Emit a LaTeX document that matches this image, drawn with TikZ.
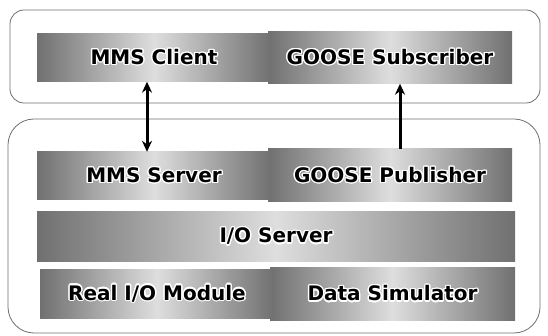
\documentclass[tikz,border=0pt]{standalone}
\usepackage{fontspec}
\setmainfont{DejaVu Sans}
\usepackage[copies]{contour}
\contourlength{1.3pt}
\contournumber{16}
\usetikzlibrary{arrows.meta}
\definecolor{edgegray}{RGB}{112,112,112}
\definecolor{midgray}{RGB}{222,222,222}
\definecolor{framegray}{RGB}{110,110,110}
\tikzset{
  blk/.style={inner sep=0pt, left color=edgegray, right color=edgegray, middle color=midgray,
    font=\bfseries\fontsize{20}{23}\selectfont, text=black},
  frame/.style={draw=framegray, line width=0.8pt},
  tip/.style={-{Stealth[length=11pt,width=10pt]}},
  conn/.style={line width=3pt, black},
}
\newcommand{\glowtxt}[1]{\contour{white}{#1}}
\begin{document}
\begin{tikzpicture}[x=1pt,y=-1pt]
\useasboundingbox (0,0) rectangle (548,336);
% containers
\draw[frame, rounded corners=14pt] (10,10) rectangle (540,103);
\draw[frame, rounded corners=26pt] (8,119) rectangle (540,333);
% top layer
\node[blk, minimum width=244pt, minimum height=52pt] (gsub) at (390,57.5) {\glowtxt{GOOSE Subscriber}};
\node[blk, minimum width=234pt, minimum height=48pt] (mmsc) at (154,57.5) {\glowtxt{MMS Client}};
% bottom layer
\node[blk, minimum width=244pt, minimum height=53pt] (gpub) at (390,175.5) {\glowtxt{GOOSE Publisher}};
\node[blk, minimum width=234pt, minimum height=48pt] (mmss) at (154,176) {\glowtxt{MMS Server}};
\node[blk, minimum width=478pt, minimum height=50pt] (io) at (276,237) {\glowtxt{I/O Server}};
\node[blk, minimum width=245pt, minimum height=52pt] (sim) at (392.5,294) {\glowtxt{Data Simulator}};
\node[blk, minimum width=234pt, minimum height=48pt] (real) at (157,294) {\glowtxt{Real I/O Module}};
% connectors
\draw[conn, {Stealth[length=11pt,width=10pt]}-{Stealth[length=11pt,width=10pt]}] ([xshift=-7pt]mmsc.south) -- ([xshift=-7pt]mmss.north);
\draw[conn, tip] ([xshift=10pt]gpub.north) -- ([xshift=10pt]gsub.south);
\end{tikzpicture}
\end{document}
